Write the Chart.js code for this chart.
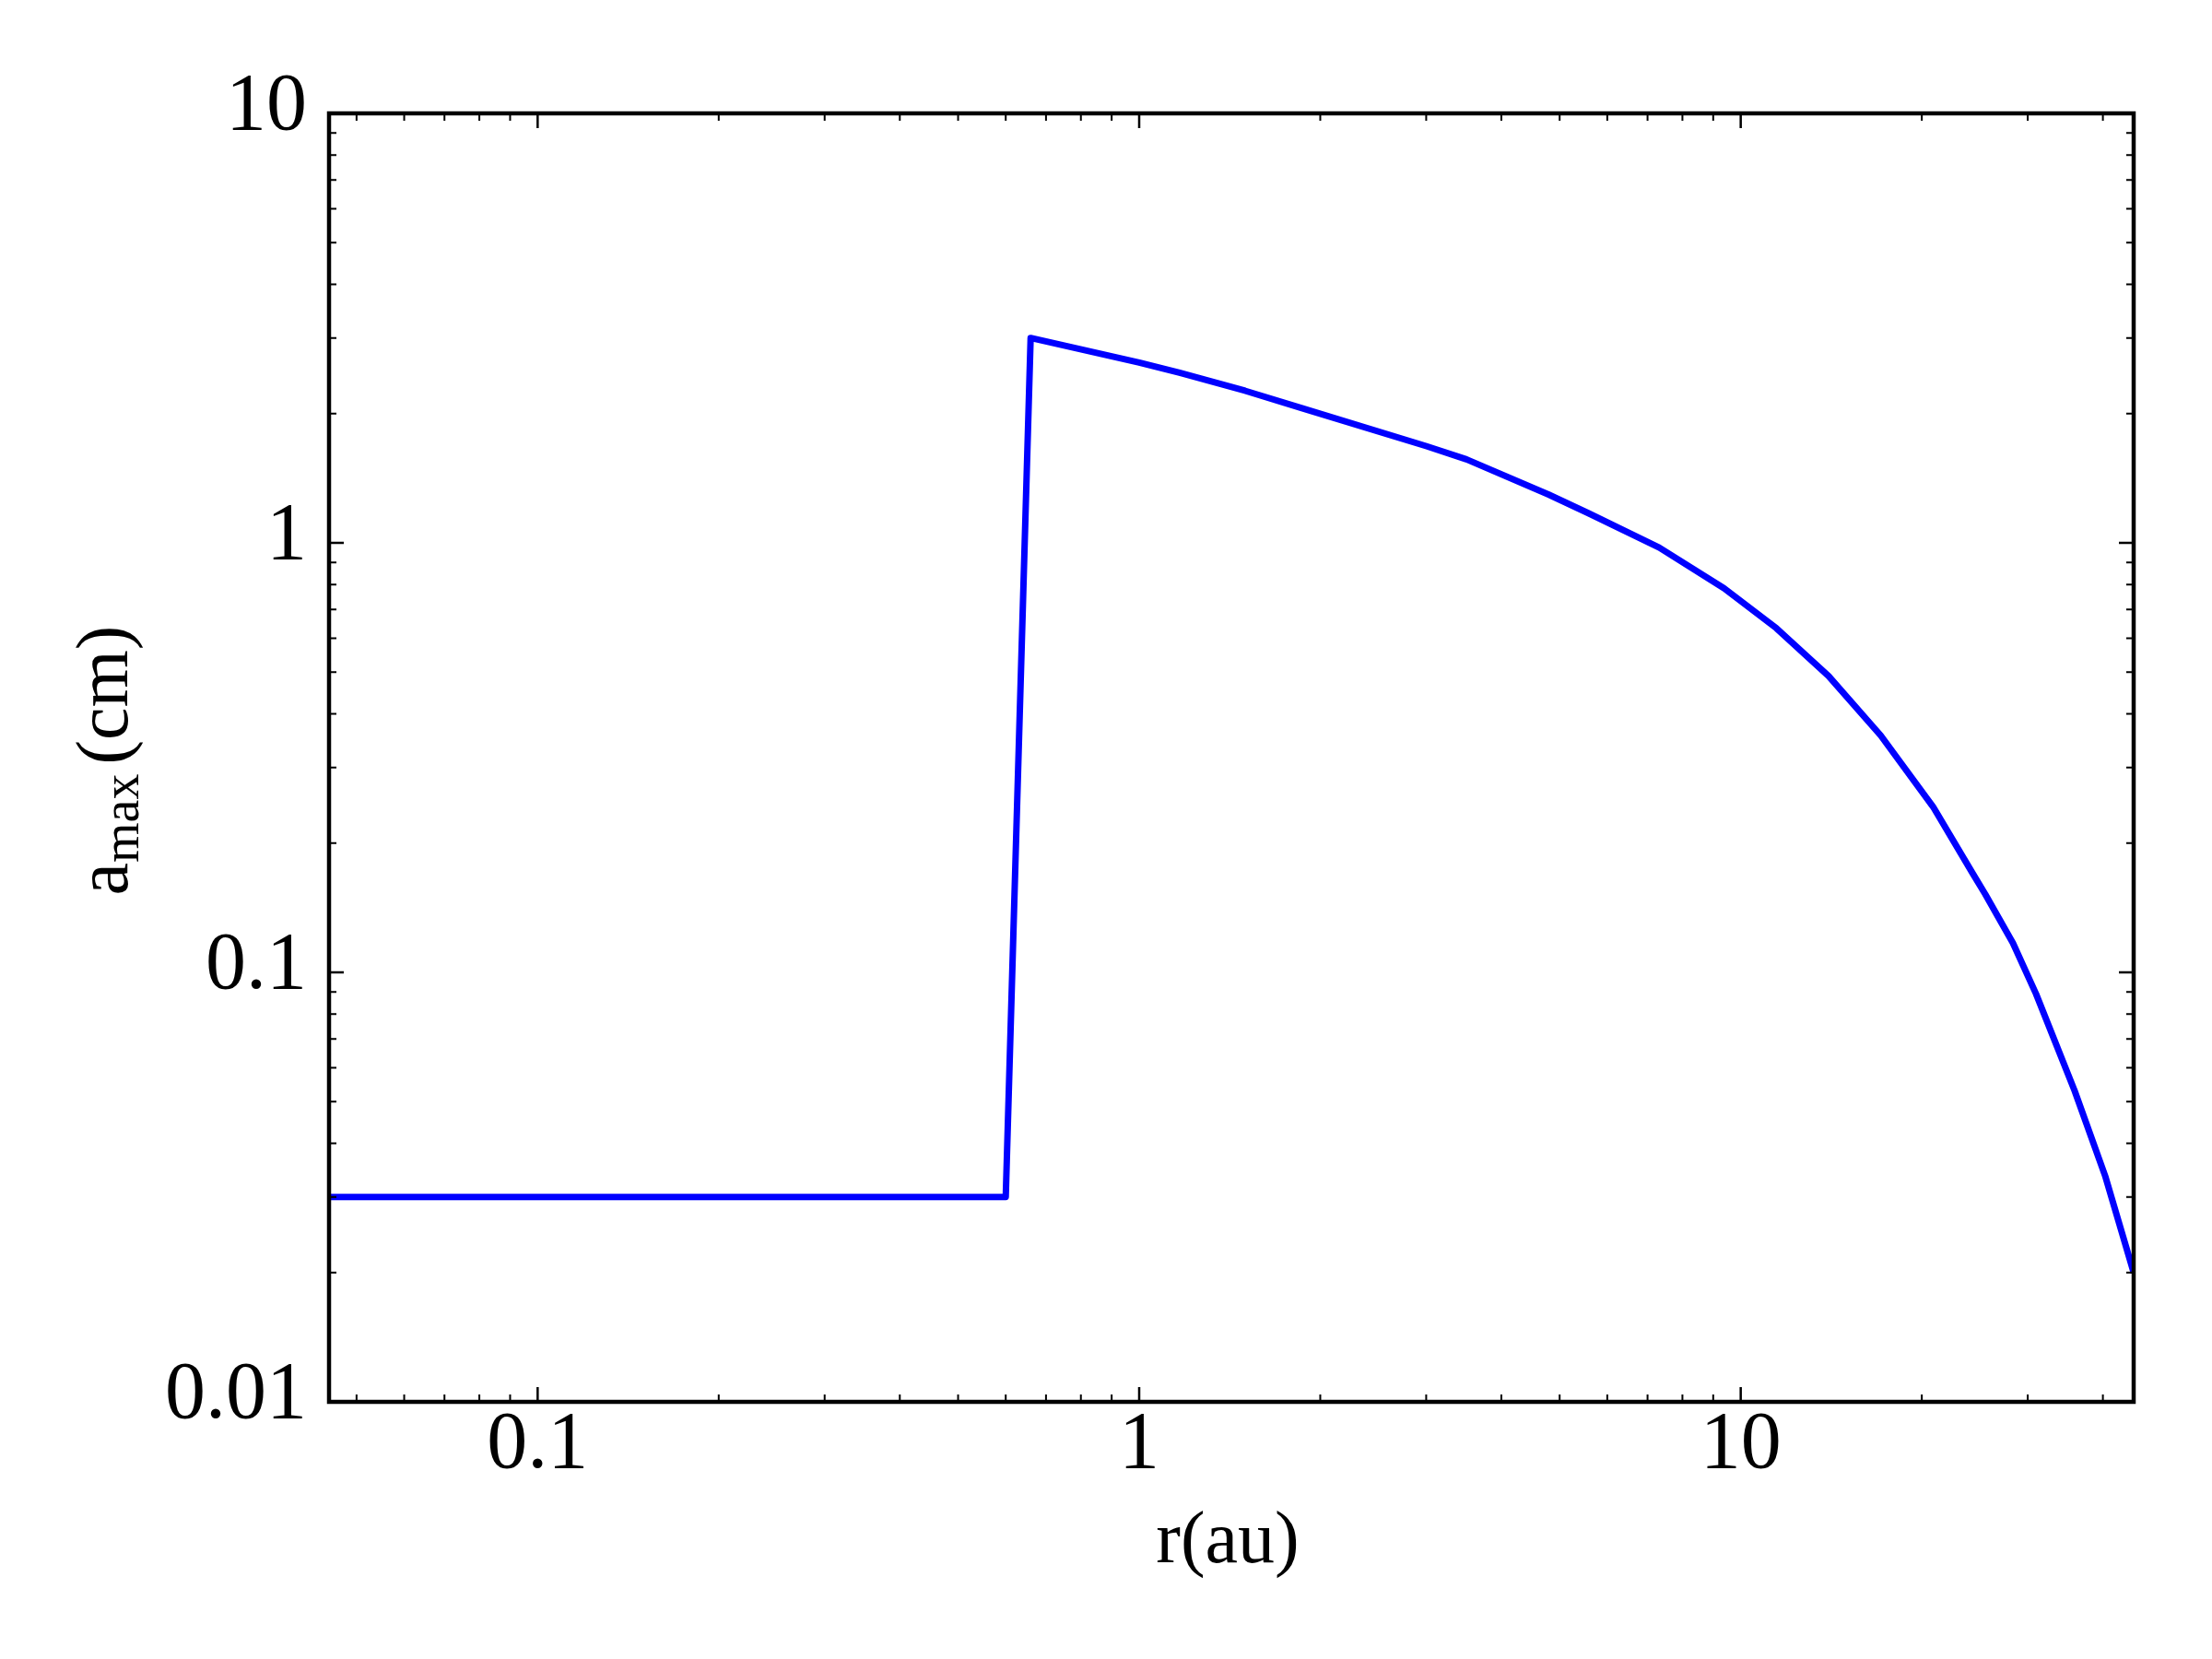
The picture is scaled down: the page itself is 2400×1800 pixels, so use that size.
<!DOCTYPE html>
<html>
<head>
<meta charset="utf-8">
<script src="https://cdn.jsdelivr.net/npm/chart.js@4.4.1/dist/chart.umd.min.js"></script>
<style>
  html, body { margin: 0; padding: 0; background: #fff; }
  #chart { display: block; }
</style>
</head>
<body>
<canvas id="chart" width="2400" height="1800" style="width:2400px;height:1800px"></canvas>
<script>
// r (au) and a_max (cm)
const radius = [0.045, 0.6, 0.66, 1.0, 1.167, 1.5, 1.87, 3.0, 3.5, 4.79, 5.6, 7.32, 9.38, 11.46, 13.99,
                17.09, 20.88, 24.3, 25.5, 28.35, 30.97, 35.9, 40.4, 45];
const aMax   = [0.03, 0.03, 3.0, 2.63, 2.49, 2.26, 2.056, 1.68, 1.565, 1.296, 1.17, 0.975, 0.784, 0.633, 0.49,
                0.356, 0.243, 0.17, 0.152, 0.117, 0.0891, 0.053, 0.0334, 0.020];

const xTickValues = [0.1, 1, 10];
const yTickValues = [0.01, 0.1, 1, 10];
const xMinorValues = [0.05, 0.06, 0.07, 0.08, 0.09, 0.2, 0.3, 0.4, 0.5, 0.6, 0.7, 0.8, 0.9,
                      2, 3, 4, 5, 6, 7, 8, 9, 20, 30, 40];
const yMinorValues = [0.02, 0.03, 0.04, 0.05, 0.06, 0.07, 0.08, 0.09, 0.2, 0.3, 0.4, 0.5, 0.6, 0.7, 0.8, 0.9,
                      2, 3, 4, 5, 6, 7, 8, 9];

const serif = "'Liberation Serif', 'Times New Roman', serif";

// matplotlib style frame with inward ticks on all four sides
const frameTicks = {
  id: 'frameTicks',
  afterDatasetsDraw(chart) {
    const { ctx, chartArea: a, scales: { x, y } } = chart;
    ctx.save();
    ctx.strokeStyle = '#000';
    ctx.lineCap = 'butt';

    function xTick(v, len, w) {
      const px = x.getPixelForValue(v);
      ctx.lineWidth = w;
      ctx.beginPath();
      ctx.moveTo(px, a.bottom); ctx.lineTo(px, a.bottom - len);
      ctx.moveTo(px, a.top); ctx.lineTo(px, a.top + len);
      ctx.stroke();
    }
    function yTick(v, len, w) {
      const py = y.getPixelForValue(v);
      ctx.lineWidth = w;
      ctx.beginPath();
      ctx.moveTo(a.left, py); ctx.lineTo(a.left + len, py);
      ctx.moveTo(a.right, py); ctx.lineTo(a.right - len, py);
      ctx.stroke();
    }
    xMinorValues.forEach(v => xTick(v, 8, 2));
    yMinorValues.forEach(v => yTick(v, 8, 2));
    xTickValues.forEach(v => xTick(v, 16, 2.5));
    yTickValues.forEach(v => yTick(v, 16, 2.5));

    ctx.lineWidth = 4.5;
    ctx.strokeRect(a.left, a.top, a.right - a.left, a.bottom - a.top);
    ctx.restore();
  }
};

// axis titles, the y one has a subscript
const axisTitles = {
  id: 'axisTitles',
  afterDraw(chart) {
    const { ctx, chartArea: a } = chart;
    ctx.save();
    ctx.fillStyle = '#000';
    ctx.textBaseline = 'alphabetic';

    ctx.font = '80px ' + serif;
    ctx.textAlign = 'center';
    ctx.fillText('r(au)', (a.left + a.right) / 2 - 4, 1695);

    const big = '80px ' + serif, small = '56px ' + serif;
    ctx.font = big;
    const wA = ctx.measureText('a').width;
    const wP = ctx.measureText('(cm)').width;
    ctx.font = small;
    const wS = ctx.measureText('max').width;
    const gap = 10;
    ctx.translate(138, (a.top + a.bottom) / 2 + 3);
    ctx.rotate(-Math.PI / 2);
    ctx.textAlign = 'left';
    let x0 = -(wA + wS + gap + wP) / 2;
    ctx.font = big;
    ctx.fillText('a', x0, 0);
    ctx.font = small;
    ctx.fillText('max', x0 + wA, 12);
    ctx.font = big;
    ctx.fillText('(cm)', x0 + wA + wS + gap, 0);
    ctx.restore();
  }
};

new Chart(document.getElementById('chart'), {
  type: 'scatter',
  data: {
    datasets: [{
      data: radius.map((r, i) => ({ x: r, y: aMax[i] })),
      showLine: true,
      borderColor: '#0000ff',
      borderWidth: 7,
      borderJoinStyle: 'round',
      pointRadius: 0,
      tension: 0,
      fill: false
    }]
  },
  options: {
    responsive: false,
    animation: false,
    devicePixelRatio: 1,
    layout: { padding: { top: 123, right: 85, left: 0, bottom: 0 } },
    plugins: { legend: { display: false }, tooltip: { enabled: false } },
    scales: {
      x: {
        type: 'logarithmic',
        min: 0.045,
        max: 45,
        grid: { display: false, drawTicks: false },
        border: { display: false },
        afterBuildTicks: s => { s.ticks = xTickValues.map(v => ({ value: v })); },
        afterFit: s => { s.height = 279; },
        ticks: {
          autoSkip: false,
          maxRotation: 0,
          padding: 4,
          color: '#000',
          font: { family: serif, size: 88, lineHeight: 1 },
          callback: v => String(v)
        }
      },
      y: {
        type: 'logarithmic',
        min: 0.01,
        max: 10,
        grid: { display: false, drawTicks: false },
        border: { display: false },
        afterBuildTicks: s => { s.ticks = yTickValues.map(v => ({ value: v })); },
        afterFit: s => { s.width = 357; },
        ticks: {
          autoSkip: false,
          padding: 24,
          labelOffset: -6,
          color: '#000',
          font: { family: serif, size: 88, lineHeight: 1 },
          callback: v => String(v)
        }
      }
    }
  },
  plugins: [frameTicks, axisTitles]
});
</script>
</body>
</html>
